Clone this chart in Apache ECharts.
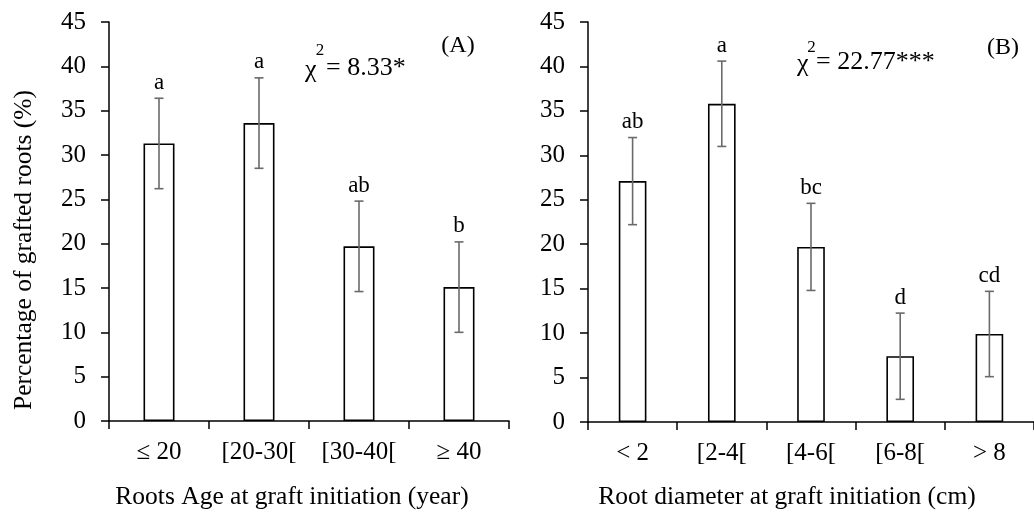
<!DOCTYPE html>
<html>
<head>
<meta charset="utf-8">
<script src="https://cdn.jsdelivr.net/npm/echarts@6/dist/echarts.min.js"></script>
<style>
html,body{margin:0;padding:0;background:#fff;}
#chart{width:1034px;height:513px;}
</style>
</head>
<body>
<div id="chart"></div>
<script>
// ---- data ----
var ageCategories = ['\u2264 20', '[20-30[', '[30-40[', '\u2265 40'];
var agePct = [31.3, 33.6, 19.7, 15.1];
var ageErr = [5.1, 5.1, 5.1, 5.1];
var ageLetters = ['a', 'a', 'ab', 'b'];

var diamCategories = ['< 2', '[2-4[', '[4-6[', '[6-8[', '> 8'];
var diamPct = [27.1, 35.8, 19.7, 7.4, 9.9];
var diamErr = [4.9, 4.8, 4.9, 4.85, 4.8];
var diamLetters = ['ab', 'a', 'bc', 'd', 'cd'];

var yTicks = [0, 5, 10, 15, 20, 25, 30, 35, 40, 45];

var FONT = '"Liberation Serif", "Times New Roman", serif';
var FS = 25;      // tick labels
var FT = 25.5;    // axis titles
var FL = 23;      // letters
var FC = 26;      // chi text
var FP = 24;      // panel tags

var chart = echarts.init(document.getElementById('chart'));

function errorRenderer(letters) {
  return function (params, api) {
    var x = api.value(0);
    var v = api.value(1);
    var e = api.value(2);
    var top = api.coord([x, v + e]);
    var bot = api.coord([x, v - e]);
    var cap = 4.5;
    var st = { stroke: '#6a6a6a', lineWidth: 1.6 };
    return {
      type: 'group',
      children: [
        { type: 'line', shape: { x1: top[0], y1: top[1], x2: bot[0], y2: bot[1] }, style: st },
        { type: 'line', shape: { x1: top[0] - cap, y1: top[1], x2: top[0] + cap, y2: top[1] }, style: st },
        { type: 'line', shape: { x1: bot[0] - cap, y1: bot[1], x2: bot[0] + cap, y2: bot[1] }, style: st },
        { type: 'text', x: top[0], y: top[1] - 4,
          style: { text: letters[params.dataIndex], fill: '#000', font: FL + 'px ' + FONT,
                   textAlign: 'center', textVerticalAlign: 'bottom' } }
      ]
    };
  };
}

function errData(vals, errs) {
  return vals.map(function (v, i) { return [i, v, errs[i]]; });
}

function xAxisCfg(cats, idx) {
  return {
    type: 'category', gridIndex: idx, data: cats,
    axisLine: { lineStyle: { color: '#000', width: 1.5 } },
    axisTick: { show: true, alignWithLabel: false, length: 8, lineStyle: { color: '#000', width: 1.5 } },
    axisLabel: { color: '#000', fontFamily: FONT, fontSize: FS, margin: 19, interval: 0 }
  };
}

function yAxisCfg(idx) {
  return {
    type: 'value', gridIndex: idx, min: yTicks[0], max: yTicks[yTicks.length - 1], interval: 5,
    axisLine: { show: true, lineStyle: { color: '#000', width: 1.5 } },
    axisTick: { show: true, length: 8, lineStyle: { color: '#000', width: 1.5 } },
    splitLine: { show: false },
    axisLabel: { color: '#000', fontFamily: FONT, fontSize: FS, margin: 23 }
  };
}

function txt(x, y, s, size, align) {
  return { type: 'text', x: x, y: y,
    style: { text: s, font: size + 'px ' + FONT, fill: '#000',
             textAlign: align || 'center', textVerticalAlign: 'middle' } };
}

var barStyle = { color: '#fff', borderColor: '#000', borderWidth: 1.6 };

chart.setOption({
  animation: false,
  backgroundColor: '#fff',
  grid: [
    { left: 109, top: 22, width: 400, bottom: 92 },
    { left: 588, top: 22, width: 450, bottom: 91 }
  ],
  xAxis: [xAxisCfg(ageCategories, 0), xAxisCfg(diamCategories, 1)],
  yAxis: [yAxisCfg(0), yAxisCfg(1)],
  series: [
    { type: 'bar', xAxisIndex: 0, yAxisIndex: 0, data: agePct, barWidth: '31%', itemStyle: barStyle },
    { type: 'custom', xAxisIndex: 0, yAxisIndex: 0, data: errData(agePct, ageErr),
      renderItem: errorRenderer(ageLetters), z: 5 },
    { type: 'bar', xAxisIndex: 1, yAxisIndex: 1, data: diamPct, barWidth: '31%', itemStyle: barStyle },
    { type: 'custom', xAxisIndex: 1, yAxisIndex: 1, data: errData(diamPct, diamErr),
      renderItem: errorRenderer(diamLetters), z: 5 }
  ],
  graphic: [
    { type: 'text', x: 24, y: 250, rotation: Math.PI / 2,
      style: { text: 'Percentage of grafted roots (%)', font: FT + 'px ' + FONT, fill: '#000',
               textAlign: 'center', textVerticalAlign: 'middle' } },
    txt(292, 497, 'Roots Age at graft initiation (year)', FT),
    txt(787, 497, 'Root diameter at graft initiation (cm)', FT),
    // panel A annotations
    txt(305, 70, '\u03c7', FC, 'left'),
    txt(320, 51, '2', 17),
    txt(326, 68, '= 8.33*', FC, 'left'),
    txt(458, 46, '(A)', FP),
    // panel B annotations
    txt(797, 64, '\u03c7', FC, 'left'),
    txt(811.5, 48, '2', 17),
    txt(816, 62, '= 22.77***', FC, 'left'),
    txt(1003, 48, '(B)', FP)
  ]
});
</script>
</body>
</html>
